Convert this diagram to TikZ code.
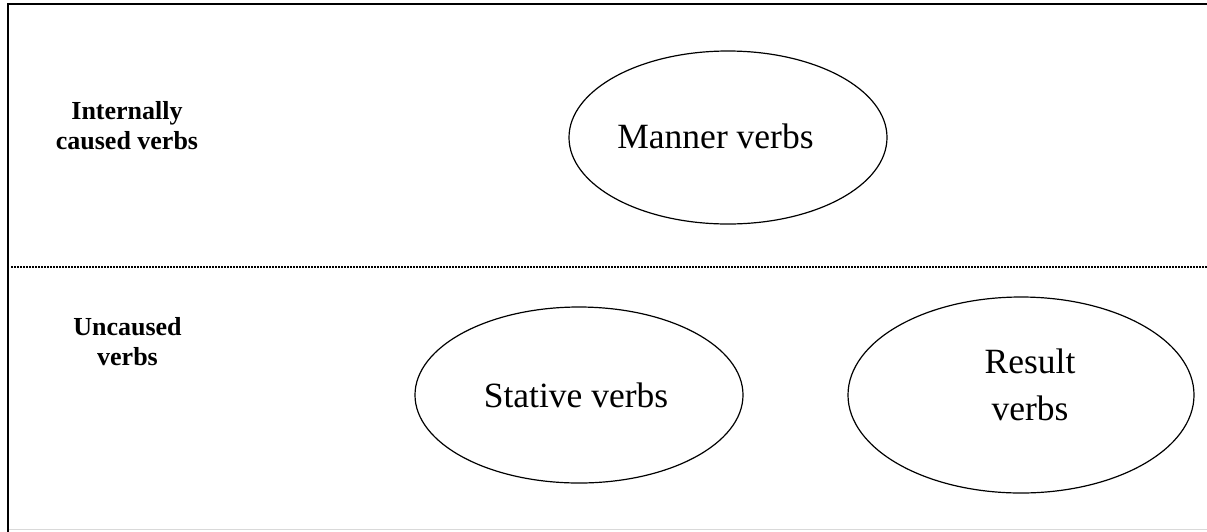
\documentclass[tikz,border=0pt]{standalone}
\usepackage{fontspec}
\setmainfont{Liberation Serif}
\usetikzlibrary{shapes.geometric}
\begin{document}
\begin{tikzpicture}[x=1pt,y=-1pt,
  oval/.style={draw, ellipse, line width=1.2pt, inner sep=0pt},
  verbtext/.style={inner sep=0pt, align=center, font=\fontsize{35.5}{47}\selectfont},
  rowlabel/.style={inner sep=0pt, align=center, font=\fontsize{26}{30.5}\selectfont\bfseries},
  frameline/.style={line width=1.8pt, line cap=rect},
  divider/.style={line width=1.3pt, dash pattern=on 1.5pt off 1.5pt}]
\useasboundingbox (0,0) rectangle (1207,531);
% frame
\coordinate (tl) at (8,3.8);
\coordinate (tr) at (1207,3.8);
\coordinate (bl) at (8,531);
\coordinate (gl) at (9,529.6);
\coordinate (gr) at (1207,529.6);
\draw[frameline] (tr) -- (tl) -- (bl);
\draw[gray!30, line width=1pt] (gl) -- (gr);
% dotted divider
\coordinate (dl) at (11,267);
\coordinate (dr) at (1207,267);
\draw[divider] (dl) -- (dr);
% row labels
\node[rowlabel] (internal) at (127,125.6) {Internally\\caused verbs};
\node[rowlabel] (uncaused) at (127.5,341.6) {Uncaused\\verbs};
% ellipses
\node[oval, minimum width=318pt, minimum height=173pt] (manner) at (728,137.5) {};
\node[verbtext] (mannertext) at (715.5,136) {Manner verbs};
\node[oval, minimum width=328pt, minimum height=176pt] (stative) at (579,395) {};
\node[verbtext] (stativetext) at (576,395.5) {Stative verbs};
\node[oval, minimum width=346pt, minimum height=196pt] (result) at (1021,395) {};
\node[verbtext] (resulttext) at (1030,384.4) {Result\\verbs};
\end{tikzpicture}
\end{document}
